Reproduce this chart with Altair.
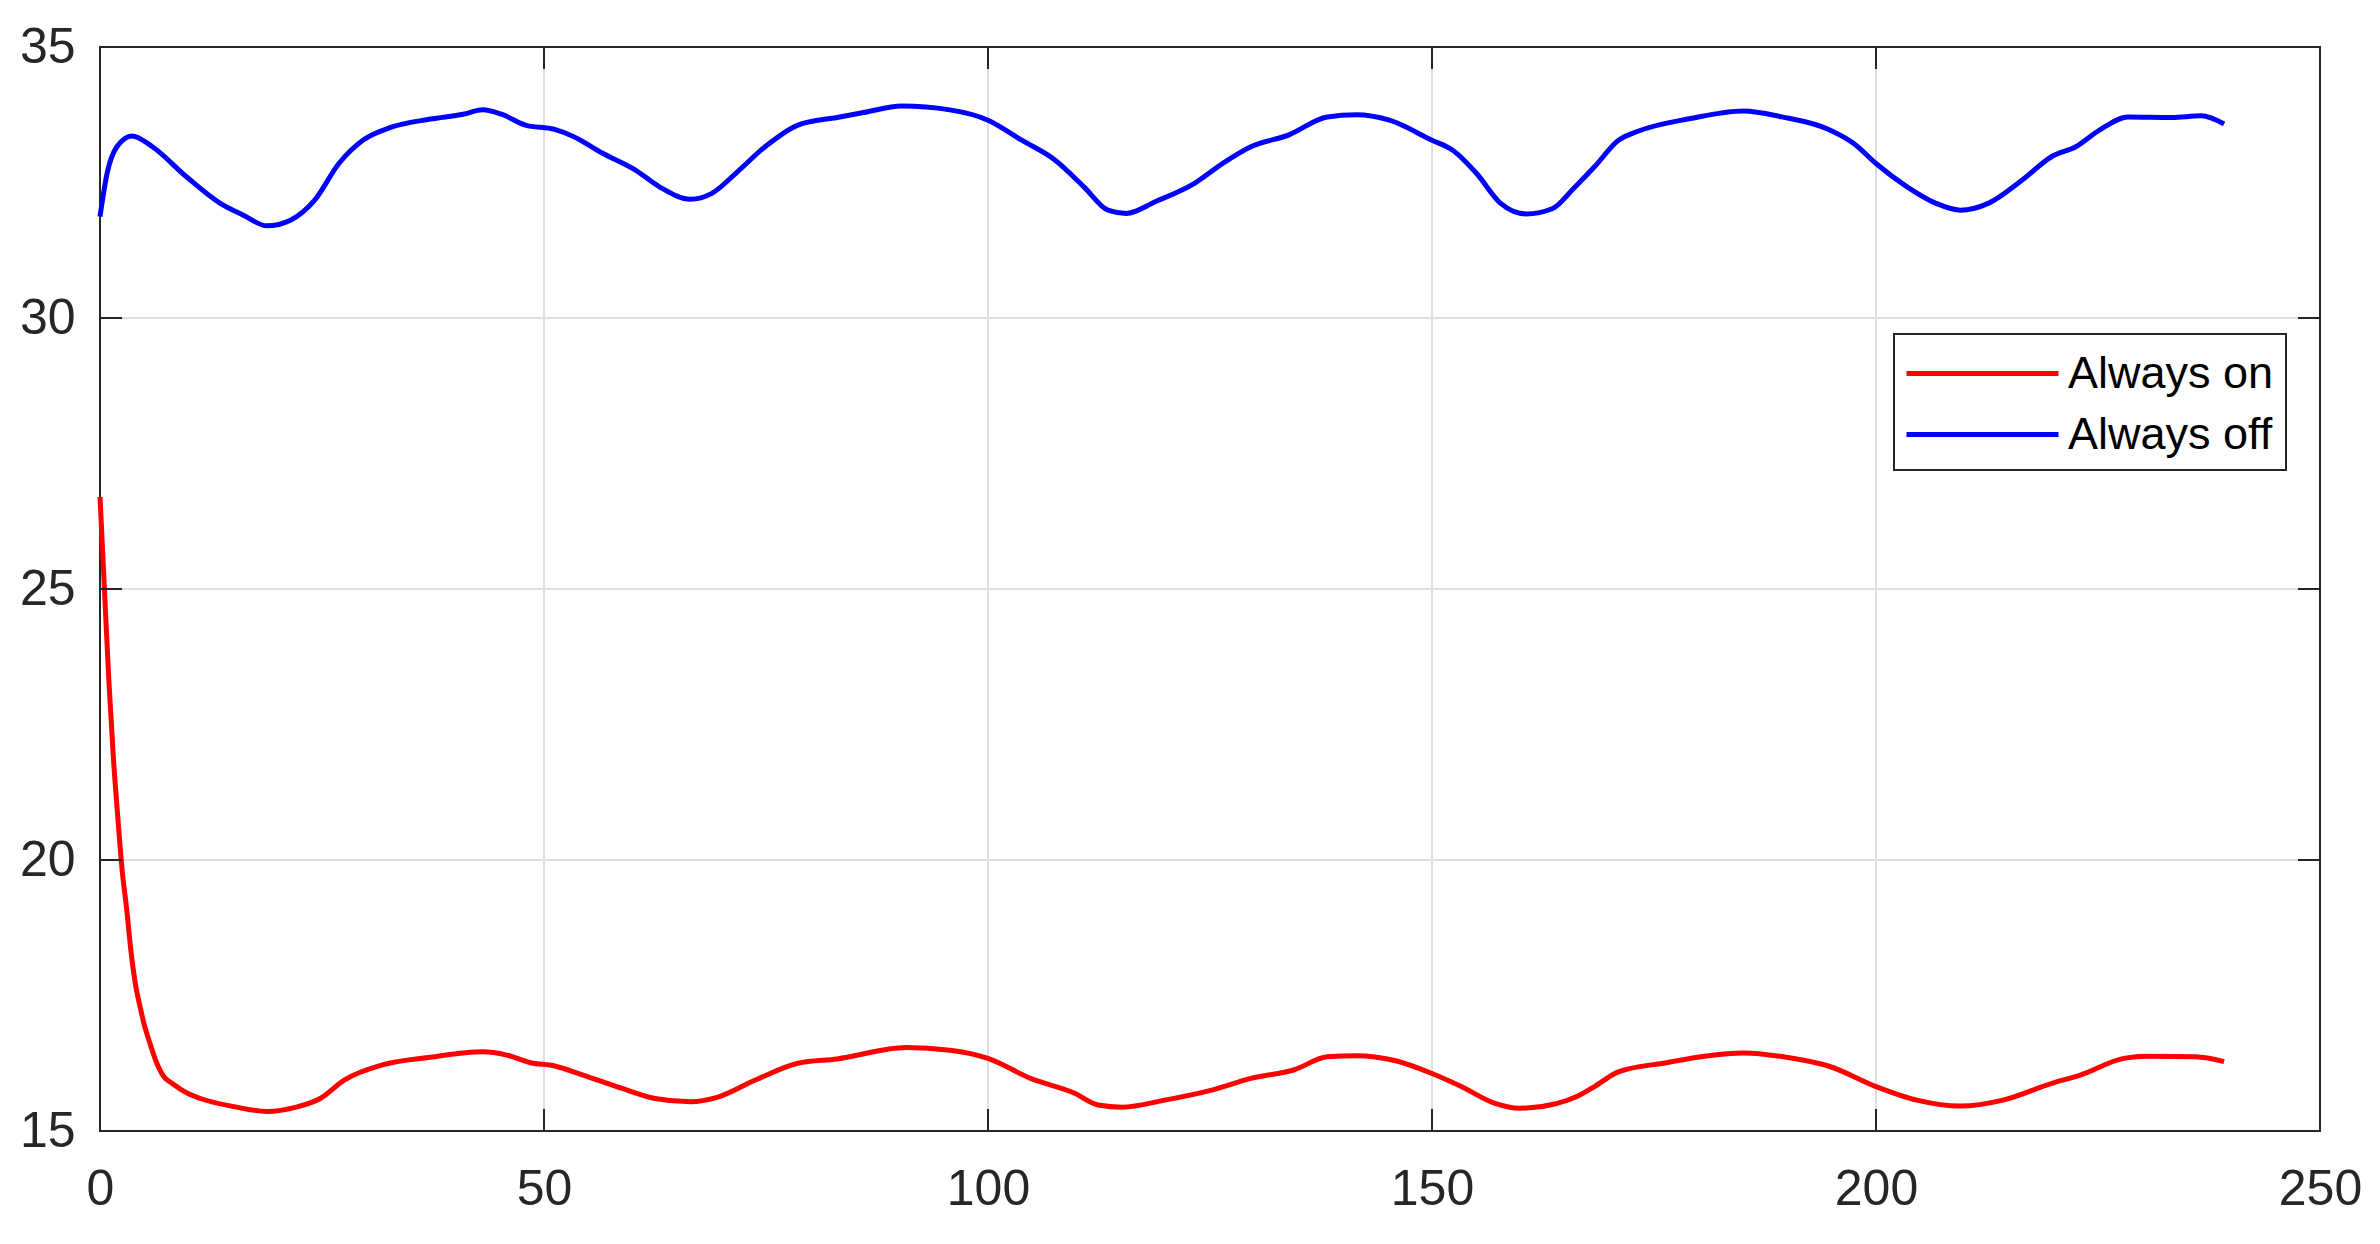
import altair as alt
import pandas as pd

# ---- data ----
t_on = [0, 0.5, 1.0, 1.5, 2.0, 2.5, 3.0, 3.5, 4.0, 4.5, 5.0, 5.5, 6.4, 7.2, 8.1, 9.8, 11.3,
        15.1, 18.8, 22.1, 24.8, 27.5, 31.8, 37.2, 43.1, 45.8, 48.5, 51.2, 54.4, 58.7, 62.5,
        66.5, 69.5, 73.8, 78.6, 83.0, 90.8, 95.7, 100, 104.8, 109.7, 112.4, 115.1, 119.9,
        125.3, 129.6, 134.5, 138.2, 141.5, 145.8, 150, 153.3, 157.1, 159.8, 164.1, 166.5,
        168.3, 171.0, 176.4, 180.7, 185.1, 189.9, 194.8, 200, 204.6, 209.5, 214.3, 219.8,
        223.0, 227.9, 230.6, 236.0, 239.2]
v_on = [26.7, 25.0, 23.3, 21.9, 20.8, 19.8, 19.1, 18.3, 17.7, 17.3, 16.95, 16.68, 16.25, 16.0,
        15.88, 15.70, 15.60, 15.45, 15.36, 15.44, 15.60, 15.94, 16.22, 16.36, 16.46, 16.40,
        16.26, 16.20, 16.03, 15.79, 15.60, 15.54, 15.62, 15.94, 16.25, 16.33, 16.54, 16.49,
        16.34, 15.97, 15.70, 15.48, 15.44, 15.57, 15.76, 15.97, 16.13, 16.37, 16.39, 16.30,
        16.06, 15.82, 15.51, 15.42, 15.51, 15.65, 15.82, 16.09, 16.26, 16.38, 16.44, 16.36,
        16.19, 15.82, 15.57, 15.46, 15.57, 15.88, 16.03, 16.34, 16.38, 16.37, 16.28]

t_off = [0, 0.8, 1.9, 3.6, 5.9, 9.7, 13.5, 16.1, 18.8, 21.5, 24.2, 26.9, 29.6, 32.8, 37.2,
         40.9, 43.1, 45.2, 47.9, 51.2, 53.3, 56.6, 60.3, 63.0, 66.5, 68.9, 71.6, 74.9, 78.6,
         83.0, 86.0, 90.3, 95.7, 100, 103.8, 107.5, 110.8, 113.5, 115.6, 118.9, 123.2, 126.4,
         129.6, 133.9, 138.2, 141.5, 145.2, 150, 152.3, 155.0, 157.7, 160.6, 163.6, 166.0,
         168.3, 171.0, 173.1, 179.1, 185.1, 189.4, 194.8, 197.5, 200, 203.5, 206.7, 209.5,
         212.7, 216.5, 219.8, 222.5, 225.2, 228.4, 233.3, 236.6, 239.2]
v_off = [31.87, 32.67, 33.16, 33.36, 33.16, 32.61, 32.12, 31.90, 31.70, 31.81, 32.18, 32.85,
         33.28, 33.52, 33.67, 33.76, 33.84, 33.76, 33.56, 33.48, 33.35, 33.04, 32.73, 32.42,
         32.19, 32.30, 32.67, 33.16, 33.56, 33.70, 33.79, 33.91, 33.84, 33.65, 33.28, 32.92,
         32.42, 31.99, 31.93, 32.15, 32.48, 32.85, 33.16, 33.38, 33.71, 33.75, 33.65, 33.28,
         33.10, 32.67, 32.12, 31.92, 32.02, 32.40, 32.79, 33.28, 33.44, 33.68, 33.82, 33.71,
         33.47, 33.22, 32.85, 32.42, 32.12, 31.99, 32.12, 32.55, 32.98, 33.16, 33.47, 33.71,
         33.70, 33.73, 33.58]

series_names = ["Always on", "Always off"]
series_colors = ["#ff0000", "#0000ff"]
x_ticks = [0, 50, 100, 150, 200, 250]
y_ticks = [15, 20, 25, 30, 35]

# ---- layout / style ----
W, H = 2220, 1084
TICK = 22
FONT = "Liberation Sans"
AXC = "#262626"
GRID = "#dfdfdf"

df = pd.concat([
    pd.DataFrame({"t": t_on, "v": v_on, "series": series_names[0]}),
    pd.DataFrame({"t": t_off, "v": v_off, "series": series_names[1]}),
], ignore_index=True)
xdf = pd.DataFrame({"t": x_ticks})
ydf = pd.DataFrame({"v": y_ticks})
xgrid = pd.DataFrame({"t": x_ticks[1:-1]})
ygrid = pd.DataFrame({"v": y_ticks[1:-1]})

xs = alt.Scale(domain=[x_ticks[0], x_ticks[-1]], nice=False, zero=False)
ys = alt.Scale(domain=[y_ticks[0], y_ticks[-1]], nice=False, zero=False)

xaxis = alt.Axis(values=x_ticks, grid=False, domain=False, ticks=False, labelFontSize=50,
                 labelFont=FONT, labelColor=AXC, labelPadding=33, labelFlush=False,
                 labelOverlap=False, title=None)
yaxis = alt.Axis(values=y_ticks, grid=False, domain=False, ticks=False, labelFontSize=50,
                 labelFont=FONT, labelColor=AXC, labelPadding=25, labelOverlap=False,
                 title=None)

X = alt.X("t:Q", scale=xs, axis=xaxis)
Y = alt.Y("v:Q", scale=ys, axis=yaxis)

grid_x = alt.Chart(xgrid).mark_rule(color=GRID, strokeWidth=2).encode(x=X)
grid_y = alt.Chart(ygrid).mark_rule(color=GRID, strokeWidth=2).encode(y=Y)

lines = alt.Chart(df).mark_line(strokeWidth=5, interpolate="monotone").encode(
    x=X, y=Y,
    color=alt.Color(
        "series:N",
        scale=alt.Scale(domain=series_names, range=series_colors),
        legend=alt.Legend(
            title=None, orient="none", legendX=1794, legendY=287, direction="vertical",
            strokeColor=AXC, fillColor="white", padding=12, cornerRadius=0,
            symbolType="M-3.04,0H3.04", symbolSize=2500, symbolStrokeWidth=5,
            symbolOffset=49, labelOffset=58, labelFontSize=45, labelFont=FONT,
            labelColor="black", rowPadding=10, labelLimit=0,
        ),
    ),
)

tick_style = dict(color=AXC, strokeWidth=2)
tick_bottom = alt.Chart(xdf).mark_rule(**tick_style).encode(x=X, y=alt.value(H), y2=alt.value(H - TICK))
tick_top = alt.Chart(xdf).mark_rule(**tick_style).encode(x=X, y=alt.value(0), y2=alt.value(TICK))
tick_left = alt.Chart(ydf).mark_rule(**tick_style).encode(y=Y, x=alt.value(0), x2=alt.value(TICK))
tick_right = alt.Chart(ydf).mark_rule(**tick_style).encode(y=Y, x=alt.value(W), x2=alt.value(W - TICK))

chart = alt.layer(grid_x, grid_y, lines, tick_bottom, tick_top, tick_left, tick_right).properties(
    width=W, height=H,
    autosize=alt.AutoSizeParams(type="none"),
    padding={"left": 92, "top": 39, "right": 52, "bottom": 100},
    background="white",
).configure_view(stroke=AXC, strokeWidth=2).configure_legend(strokeWidth=2)

chart.save("out.html", embed_options={"renderer": "svg", "actions": False})
